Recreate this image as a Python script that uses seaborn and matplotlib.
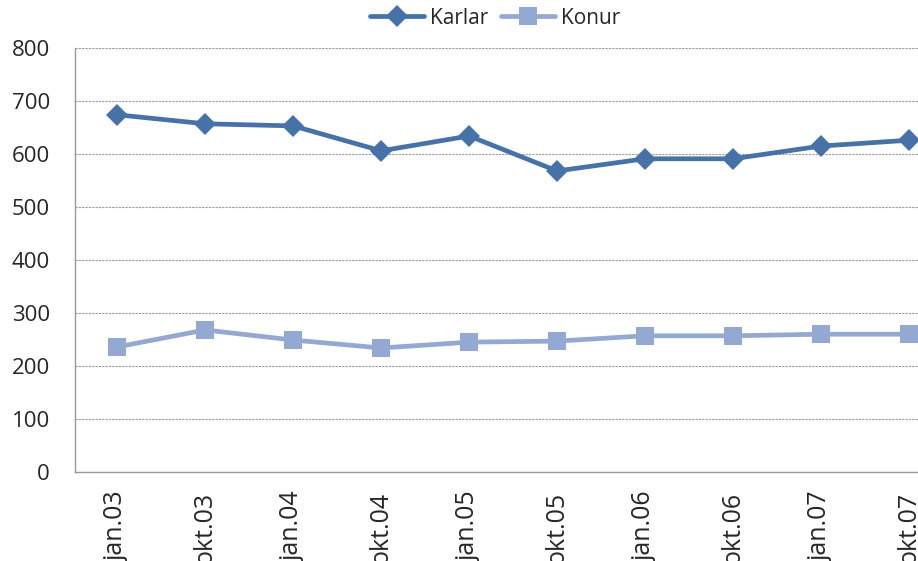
import pandas as pd
import matplotlib.pyplot as plt
import seaborn as sns

sns.set_style('white')
plt.rcParams['font.family'] = ['Open Sans', 'DejaVu Sans']

periods = ['jan.03', 'okt.03', 'jan.04', 'okt.04', 'jan.05',
           'okt.05', 'jan.06', 'okt.06', 'jan.07', 'okt.07']
karlar = [674, 657, 653, 606, 634, 568, 591, 591, 615, 626]
konur = [236, 268, 249, 234, 245, 247, 257, 257, 260, 260]

df = pd.DataFrame({'period': periods, 'Karlar': karlar, 'Konur': konur})
df['pos'] = range(len(periods))

fig = plt.figure(figsize=(9.18, 5.61), dpi=100)
ax = fig.add_axes([75 / 918, 89 / 561, 878 / 918, 424 / 561])

sns.lineplot(data=df, x='pos', y='Karlar', ax=ax, color='#4672A8', lw=3.4,
             marker='D', markersize=11, markeredgewidth=0, label='Karlar')
sns.lineplot(data=df, x='pos', y='Konur', ax=ax, color='#93A9D2', lw=3.4,
             marker='s', markersize=13, markeredgewidth=0, label='Konur')

ax.set_ylim(0, 800)
ax.set_yticks(range(0, 900, 100))
ax.set_xlim(-0.48, 9.5)
ax.set_xticks(df['pos'])
ax.set_xticklabels(periods, rotation=90, fontsize=18)
ax.tick_params(axis='y', labelsize=16, length=0, pad=18)
ax.tick_params(axis='x', length=0, pad=14)
ax.set_xlabel('')
ax.set_ylabel('')
ax.grid(axis='y', ls=(0, (2, 1)), lw=0.8, color='#999999')
for s in ['top', 'right']:
    ax.spines[s].set_visible(False)
for s in ['left', 'bottom']:
    ax.spines[s].set_color('#999999')
    ax.spines[s].set_linewidth(1)

ax.legend(loc='center', bbox_to_anchor=(495 / 918, 1 - 18 / 561),
          bbox_transform=fig.transFigure, ncol=2, frameon=False,
          fontsize=15, handlelength=2.6, columnspacing=0.6, handletextpad=0.3)

fig.savefig('out.png', dpi=100)
